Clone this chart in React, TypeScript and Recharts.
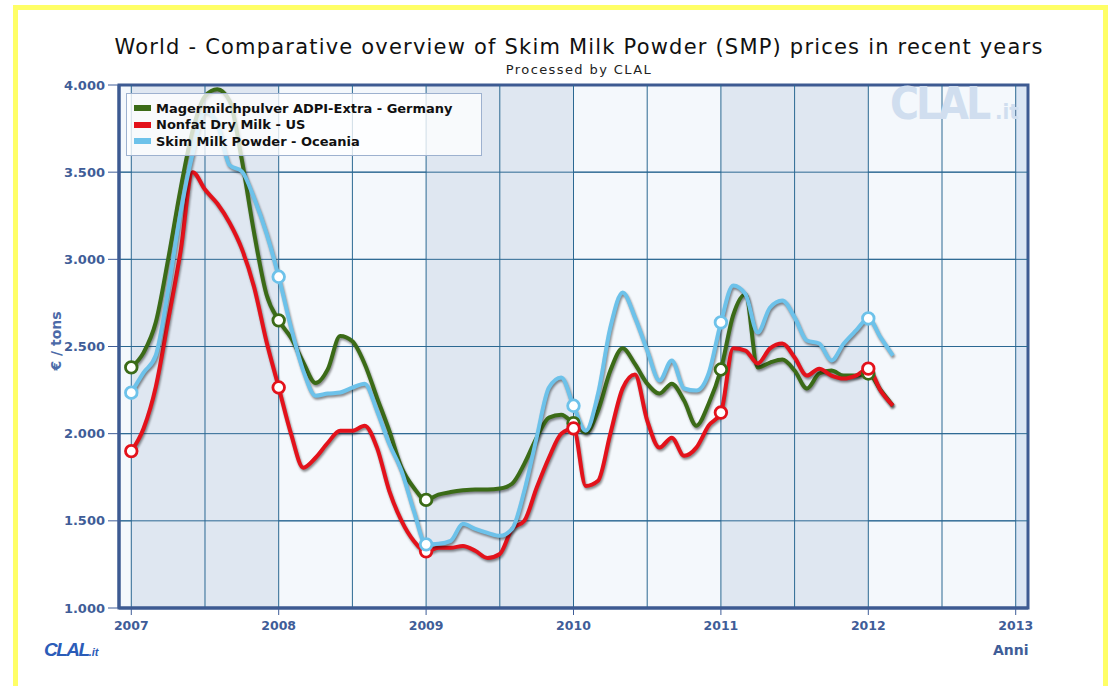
import React from 'react';
import {
  LineChart,
  Line,
  XAxis,
  YAxis,
  CartesianGrid,
  ReferenceArea,
  ReferenceLine,
} from 'recharts';

// monthly prices, Jan 2007 .. Mar 2012 (€/t)
const germany = [
  2380, 2465, 2640, 3000, 3400, 3740, 3935, 3975, 3910, 3570, 3150, 2800,
  2650, 2550, 2410, 2290, 2370, 2560, 2530, 2400, 2207, 2017, 1805, 1690,
  1620, 1650, 1665, 1675, 1680, 1680, 1685, 1713, 1828, 1977, 2092, 2109,
  2060, 2006, 2132, 2362, 2490, 2400, 2287, 2230, 2287, 2190, 2046, 2172,
  2368, 2680, 2800, 2379, 2408, 2425, 2362, 2259, 2345, 2362, 2333, 2333,
  2345, 2250, 2160,
];
const us = [
  1900, 2030, 2270, 2650, 3040, 3500, 3400, 3320, 3210, 3060, 2840, 2530,
  2265, 2000, 1805, 1862, 1948, 2017, 2017, 2046, 1920, 1672, 1500, 1385,
  1325, 1345, 1345, 1356, 1328, 1287, 1310, 1454, 1500, 1690, 1862, 2000,
  2030, 1700, 1730, 2000, 2260, 2340, 2075, 1920, 1977, 1873, 1920, 2046,
  2121, 2490, 2477, 2402, 2489, 2517, 2437, 2333, 2373, 2333, 2316, 2333,
  2373, 2247, 2161,
];
const oceania = [
  2235, 2350, 2450, 2822, 3264, 3609, 3850, 3780, 3540, 3505, 3350, 3150,
  2900, 2609, 2362, 2218, 2230, 2236, 2264, 2287, 2132, 1942, 1787, 1557,
  1365, 1368, 1385, 1483, 1454, 1431, 1414, 1454, 1672, 1977, 2264, 2322,
  2160, 2017, 2230, 2609, 2810, 2667, 2477, 2305, 2420, 2259, 2247, 2345,
  2638, 2850, 2800, 2580, 2724, 2764, 2667, 2534, 2517, 2420, 2517, 2592,
  2661, 2552, 2448,
];

const seriesNames = [
  'Magermilchpulver ADPI-Extra - Germany',
  'Nonfat Dry Milk - US',
  'Skim Milk Powder - Oceania',
];
const seriesColors = ['#3b6b17', '#e3121b', '#6dc2ea'];

const yearLabels = ['2007', '2008', '2009', '2010', '2011', '2012', '2013'];
const yearTicks = [0, 12, 24, 36, 48, 60, 72];
const halfYears = [6, 18, 30, 42, 54, 66];
const yTicks = [1000, 1500, 2000, 2500, 3000, 3500, 4000];
const shadedYears = [[0, 12], [24, 36], [48, 60]];

const data = germany.map((g, i) => ({ m: i, germany: g, us: us[i], oceania: oceania[i] }));

const axisBlue = '#3f5d98';
const gridBlue = '#2b6892';
const font = '"DejaVu Sans", Verdana, sans-serif';

const yearDot = (color: string) => (props: any) => {
  const { cx, cy, index } = props;
  if (index % 12 !== 0) return <g key={`n${index}`} />;
  return (
    <circle key={`d${index}`} cx={cx} cy={cy} r={5.8} fill="#ffffff" stroke={color} strokeWidth={2.8} />
  );
};

export default function App() {
  const keys = ['germany', 'us', 'oceania'];
  return (
    <div style={{ position: 'relative', width: 1108, height: 686, background: '#fff', overflow: 'hidden', fontFamily: font }}>
      <style>{`body{margin:0} .recharts-line-curve{filter:drop-shadow(1px 2px 1.2px rgba(0,0,0,0.45))}`}</style>
      <div style={{ position: 'absolute', left: 13, top: 5, width: 1095, height: 690, border: '5px solid #ffff66', boxSizing: 'border-box' }} />

      <div style={{ position: 'absolute', left: 0, width: 1158, top: 35, textAlign: 'center', fontSize: 21, letterSpacing: 1.2, color: '#111' }}>
        World - Comparative overview of Skim Milk Powder (SMP) prices in recent years
      </div>
      <div style={{ position: 'absolute', left: 0, width: 1158, top: 62, textAlign: 'center', fontSize: 13, letterSpacing: 1.4, color: '#222' }}>
        Processed by CLAL
      </div>

      <div style={{ position: 'absolute', left: 0, top: 0 }}>
        <LineChart width={1108} height={686} data={data} margin={{ top: 85, right: 80, left: 59, bottom: 48 }}>
          <CartesianGrid vertical={false} stroke={gridBlue} strokeWidth={1} fill="#f4f8fc" fillOpacity={1} />
          {shadedYears.map(([a, b]) => (
            <ReferenceArea key={`s${a}`} x1={a} x2={b} y1={1000} y2={4000} fill="#dfe7f1" fillOpacity={1} stroke="none" />
          ))}
          <ReferenceArea x1={72} x2={73} y1={1000} y2={4000} fill="#dbe6f4" fillOpacity={1} stroke="none" />
          {halfYears.concat(yearTicks).map((m) => (
            <ReferenceLine key={`v${m}`} x={m} stroke={gridBlue} strokeWidth={1} />
          ))}
          {yTicks.slice(1, -1).map((v) => (
            <ReferenceLine key={`h${v}`} y={v} stroke={gridBlue} strokeWidth={1} />
          ))}
          <ReferenceArea x1={-1} x2={73} y1={1000} y2={4000} fill="none" stroke="#3d5a92" strokeWidth={3} />
          <XAxis
            dataKey="m"
            type="number"
            domain={[-1, 73]}
            ticks={yearTicks}
            tickFormatter={(v) => yearLabels[v / 12]}
            height={30}
            tickSize={7}
            tickMargin={6}
            axisLine={{ stroke: '#3d5a92', strokeWidth: 3 }}
            tickLine={{ stroke: axisBlue }}
            tick={{ fill: axisBlue, fontSize: 12.5, fontWeight: 'bold', fontFamily: font }}
            allowDataOverflow
          />
          <YAxis
            type="number"
            domain={[1000, 4000]}
            ticks={yTicks}
            tickFormatter={(v) => (v / 1000).toFixed(3)}
            width={60}
            tickSize={11}
            tickMargin={3}
            axisLine={{ stroke: '#3d5a92', strokeWidth: 3 }}
            tickLine={{ stroke: axisBlue }}
            tick={{ fill: axisBlue, fontSize: 13, fontWeight: 'bold', fontFamily: font }}
            allowDataOverflow
          />
          {keys.map((k, i) => (
            <Line
              key={k}
              dataKey={k}
              name={seriesNames[i]}
              type="monotone"
              stroke={seriesColors[i]}
              strokeWidth={4}
              dot={yearDot(seriesColors[i])}
              activeDot={false}
              isAnimationActive={false}
            />
          ))}
        </LineChart>
      </div>

      {/* watermark */}
      <div style={{ position: 'absolute', left: 890, top: 78, fontSize: 44, fontWeight: 'bold', color: '#d0deef', letterSpacing: -3, fontFamily: '"Liberation Sans Narrow", "DejaVu Sans Condensed", sans-serif' }}>
        CLAL<span style={{ fontSize: 22, letterSpacing: 0 }}> .it</span>
      </div>

      {/* legend */}
      <div style={{ position: 'absolute', left: 126, top: 93, width: 356, height: 63, border: '1px solid #9db1cf', background: 'rgba(255,255,255,0.78)', boxSizing: 'border-box', padding: '6px 0 0 7px' }}>
        {seriesNames.map((n, i) => (
          <div key={n} style={{ display: 'flex', alignItems: 'center', height: 16.5, fontSize: 13, fontWeight: 'bold', color: '#111' }}>
            <span style={{ display: 'inline-block', width: 17, height: 6, background: seriesColors[i], marginRight: 5 }} />
            {n}
          </div>
        ))}
      </div>

      <div style={{ position: 'absolute', left: 56, top: 341, transform: 'translate(-50%,-50%) rotate(-90deg)', fontSize: 14, fontWeight: 'bold', color: '#4b6aa8', whiteSpace: 'nowrap' }}>
        € / tons
      </div>
      <div style={{ position: 'absolute', left: 993, top: 642, fontSize: 14, fontWeight: 'bold', color: axisBlue }}>Anni</div>
      <div style={{ position: 'absolute', left: 44, top: 639, fontSize: 19, fontWeight: 'bold', fontStyle: 'italic', color: '#2b5cb8', letterSpacing: -1.5, fontFamily: '"Liberation Sans Narrow", sans-serif' }}>
        CLAL<span style={{ fontSize: 11, letterSpacing: 0 }}>.it</span>
      </div>
    </div>
  );
}
